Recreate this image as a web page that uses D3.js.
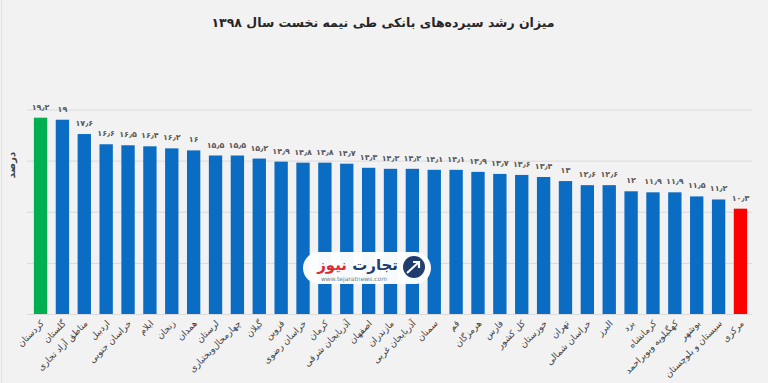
<!DOCTYPE html>
<html>
<head>
<meta charset="utf-8">
<script src="https://cdn.jsdelivr.net/npm/d3@7"></script>
<style>
  html, body { margin: 0; padding: 0; background: #f2f2f2; }
  svg { display: block; }
  text { font-family: "DejaVu Sans", "Noto Sans", sans-serif; }
</style>
</head>
<body>
<svg id="chart" width="768" height="383"></svg>
<script>
const titleText = "میزان رشد سپرده‌های بانکی طی نیمه نخست سال ۱۳۹۸";
const yLabel = "درصد";
const categories = [
  "کردستان", "گلستان", "مناطق آزاد تجاری", "اردبیل", "خراسان جنوبی", "ایلام",
  "زنجان", "همدان", "لرستان", "چهارمحال‌وبختیاری", "گیلان", "قزوین",
  "خراسان رضوی", "کرمان", "آذربایجان شرقی", "اصفهان", "مازندران", "آذربایجان غربی",
  "سمنان", "قم", "هرمزگان", "فارس", "کل کشور", "خوزستان", "تهران",
  "خراسان شمالی", "البرز", "یزد", "کرمانشاه", "کهگیلویه وبویراحمد", "بوشهر",
  "سیستان و بلوچستان", "مرکزی"
];
const values = [
  19.2, 19, 17.6, 16.6, 16.5, 16.4, 16.2, 16, 15.5, 15.5, 15.2, 14.9,
  14.8, 14.8, 14.7, 14.3, 14.2, 14.2, 14.1, 14.1, 13.9, 13.7, 13.6, 13.4, 13,
  12.6, 12.6, 12, 11.9, 11.9, 11.5, 11.2, 10.3
];
const yTicks = [0, 5, 10, 15, 20];
const highlight = { "کردستان": "#00b050", "مرکزی": "#ff0000" };
const barColor = "#0a6cc2";

const faDigits = "۰۱۲۳۴۵۶۷۸۹";
function toFa(v) {
  return String(v).replace(/\d/g, d => faDigits[+d]).replace(".", "٫");
}

const data = categories.map((c, i) => ({ name: c, value: values[i] }));
const svg = d3.select("#chart");

svg.append("line").attr("x1", 1.5).attr("x2", 1.5).attr("y1", 0).attr("y2", 383)
  .attr("stroke", "#e0e0e0").attr("stroke-width", 1);

const x = d3.scaleBand().domain(categories).range([29.5, 751.5])
  .paddingInner(0.39).paddingOuter(0.2);
const y = d3.scaleLinear().domain([0, 20]).range([314, 109.5]);

const grid = svg.append("g").attr("transform", "translate(27,0)")
  .call(d3.axisLeft(y).tickValues(yTicks).tickSize(-725).tickFormat(""));
grid.select(".domain").remove();
grid.selectAll(".tick line").attr("stroke", "#dadada").attr("stroke-width", 1);

svg.append("g").selectAll("rect").data(data).join("rect")
  .attr("x", d => x(d.name))
  .attr("y", d => y(d.value))
  .attr("width", x.bandwidth())
  .attr("height", d => y(0) - y(d.value))
  .attr("fill", d => highlight[d.name] || barColor);

svg.append("g").selectAll("text").data(data).join("text")
  .attr("x", d => x(d.name) + x.bandwidth() / 2)
  .attr("y", d => y(d.value) - 8)
  .attr("text-anchor", "middle")
  .attr("font-family", "'DejaVu Sans Condensed', 'DejaVu Sans', sans-serif")
  .attr("font-size", 8)
  .attr("font-weight", "bold")
  .attr("fill", "#595959")
  .text(d => toFa(d.value));

svg.append("g").selectAll("text").data(data).join("text")
  .attr("transform", d => `translate(${x(d.name) + x.bandwidth() / 2 + 4},${y(0) + 10}) rotate(-45)`)
  .attr("text-anchor", "end")
  .attr("font-size", 9)
  .attr("fill", "#404040")
  .text(d => d.name);

svg.append("text")
  .attr("transform", "translate(15,165) rotate(-90)")
  .attr("text-anchor", "middle")
  .attr("font-size", 10)
  .attr("font-weight", "bold")
  .attr("fill", "#404040")
  .text(yLabel);

svg.append("text")
  .attr("x", 383).attr("y", 27)
  .attr("text-anchor", "middle")
  .attr("font-size", 12.5)
  .attr("font-weight", "bold")
  .attr("fill", "#262626")
  .text(titleText);

const logo = svg.append("g").attr("opacity", 0.97);
logo.append("rect").attr("x", 303).attr("y", 252).attr("width", 128).attr("height", 32)
  .attr("rx", 16).attr("fill", "#ffffff");
logo.append("circle").attr("cx", 414).attr("cy", 267).attr("r", 11).attr("fill", "#1f3a6b");
logo.append("path").attr("d", "M407,273 L419,262 M413,262 L419,262 L419,268")
  .attr("stroke", "#ffffff").attr("stroke-width", 2.2).attr("fill", "none");
logo.append("text").attr("x", 398).attr("y", 270).attr("text-anchor", "end")
  .attr("font-size", 15).attr("font-weight", "bold").attr("fill", "#1f3a6b").text("تجارت");
logo.append("text").attr("x", 347).attr("y", 270).attr("text-anchor", "end")
  .attr("font-size", 15).attr("font-weight", "bold").attr("fill", "#e3262b").text("نیوز");
logo.append("text").attr("x", 354).attr("y", 281).attr("text-anchor", "middle")
  .attr("font-size", 6).attr("fill", "#777").text("www.tejaratnews.com");
</script>
</body>
</html>
